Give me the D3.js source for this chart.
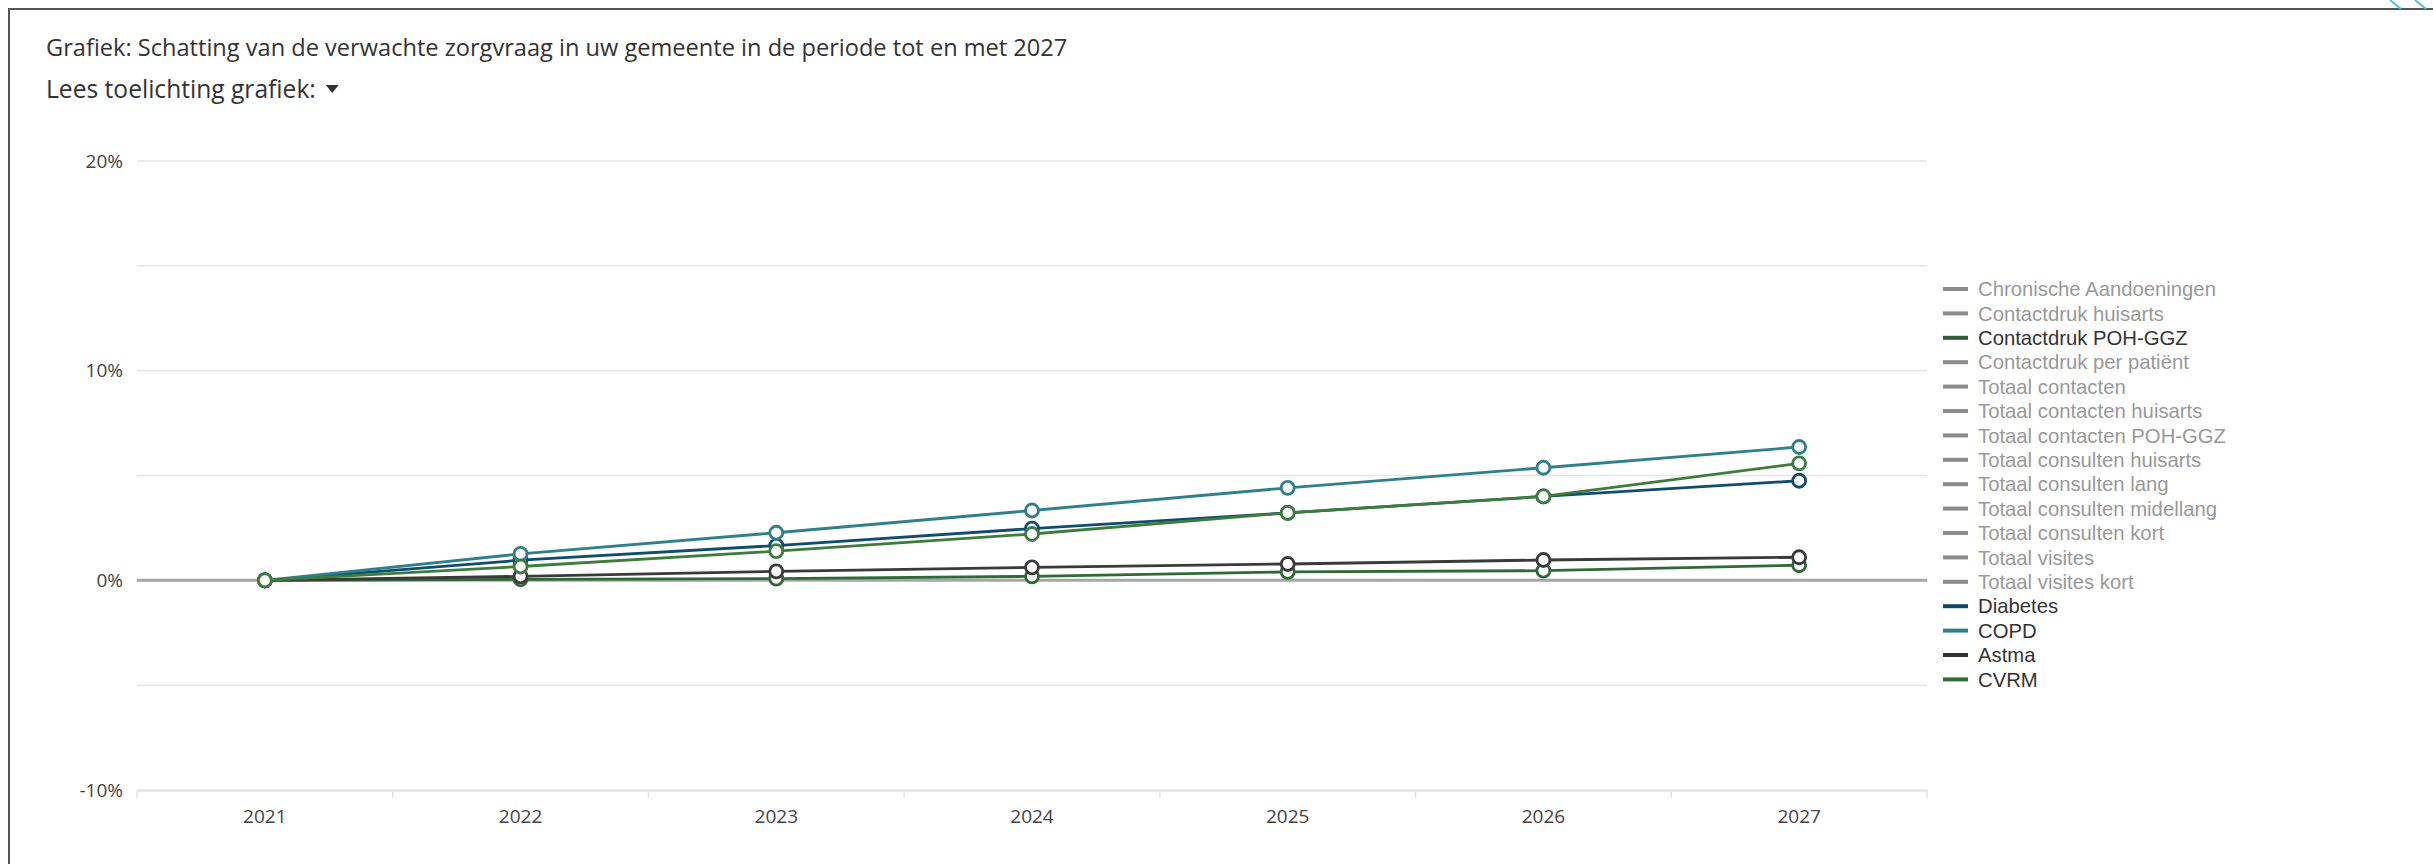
<!DOCTYPE html>
<html>
<head>
<meta charset="utf-8">
<script src="https://cdn.jsdelivr.net/npm/d3@7"></script>
<style>
  html, body { margin: 0; padding: 0; background: #fff; }
  svg { display: block; }
</style>
</head>
<body>
<svg id="chart" width="2433" height="864"></svg>
<script>
// ---- data ----
const years = ["2021", "2022", "2023", "2024", "2025", "2026", "2027"];
const yTickValues = [-10, 0, 10, 20];
const yGridValues = [-10, -5, 0, 5, 10, 15, 20];

const contactdrukPohGgz = [0, 0.05, 0.08, 0.19, 0.40, 0.46, 0.72];
const diabetes          = [0, 0.96, 1.66, 2.47, 3.22, 4.00, 4.75];
const copd              = [0, 1.26, 2.27, 3.33, 4.41, 5.37, 6.36];
const astma             = [0, 0.19, 0.43, 0.62, 0.78, 0.97, 1.10];
const cvrm              = [0, 0.66, 1.39, 2.21, 3.22, 4.00, 5.58];

const legendNames = [
  "Chronische Aandoeningen", "Contactdruk huisarts", "Contactdruk POH-GGZ",
  "Contactdruk per patiënt", "Totaal contacten", "Totaal contacten huisarts",
  "Totaal contacten POH-GGZ", "Totaal consulten huisarts", "Totaal consulten lang",
  "Totaal consulten midellang", "Totaal consulten kort", "Totaal visites",
  "Totaal visites kort", "Diabetes", "COPD", "Astma", "CVRM"
];
const legendVisible = [false, false, true, false, false, false, false, false, false,
  false, false, false, false, true, true, true, true];
const legendColors = ["#8c8c8c", "#8c8c8c", "#2d5e36", "#8c8c8c", "#8c8c8c", "#8c8c8c",
  "#8c8c8c", "#8c8c8c", "#8c8c8c", "#8c8c8c", "#8c8c8c", "#8c8c8c", "#8c8c8c",
  "#0c4a68", "#2e8088", "#333333", "#2f6f35"];

// drawn series (drawing order = legend order)
const seriesNames  = ["Contactdruk POH-GGZ", "Diabetes", "COPD", "Astma", "CVRM"];
const seriesValues = [contactdrukPohGgz, diabetes, copd, astma, cvrm];
const seriesColors = ["#2d6a36", "#0d4d6e", "#2e8189", "#3a3a3a", "#3d7d3c"];

const titleText = "Grafiek: Schatting van de verwachte zorgvraag in uw gemeente in de periode tot en met 2027";
const subText = "Lees toelichting grafiek:";

// ---- layout ----
const svg = d3.select("#chart");
const plot = { left: 137, right: 1927, top: 161, bottom: 790 };

// page frame
svg.append("path")
  .attr("d", "M9,864 V9 H2433")
  .attr("fill", "none").attr("stroke", "#555").attr("stroke-width", 2);
svg.append("line").attr("x1", 2390).attr("y1", 0).attr("x2", 2401).attr("y2", 9)
  .attr("stroke", "#4ec3d6").attr("stroke-width", 2);
svg.append("line").attr("x1", 2415).attr("y1", 0).attr("x2", 2426).attr("y2", 9)
  .attr("stroke", "#4ec3d6").attr("stroke-width", 2);

// titles
svg.append("text").attr("x", 46).attr("y", 56)
  .attr("font-family", "'Open Sans', sans-serif").attr("font-size", 23.6)
  .attr("fill", "#333").text(titleText);
const sub = svg.append("text").attr("x", 46).attr("y", 98)
  .attr("font-family", "'Open Sans', sans-serif").attr("font-size", 24.6)
  .attr("fill", "#333").text(subText);
const subW = sub.node().getComputedTextLength();
svg.append("path")
  .attr("d", `M${46 + subW + 10},85 h13 l-6.5,8 z`)
  .attr("fill", "#333");

// scales
const x = d3.scaleBand().domain(years).range([plot.left, plot.right]).padding(0);
const y = d3.scaleLinear().domain([-10, 20]).range([plot.bottom, plot.top]);
const cx = d => x(d) + x.bandwidth() / 2;

// gridlines
svg.append("g").selectAll("line").data(yGridValues.filter(v => v !== -10 && v !== 0)).join("line")
  .attr("x1", plot.left).attr("x2", plot.right)
  .attr("y1", d => y(d)).attr("y2", d => y(d))
  .attr("stroke", "#e6e6e6").attr("stroke-width", 1.5);

// y axis labels
const yAxis = d3.axisLeft(y).tickValues(yTickValues).tickSize(0).tickPadding(0)
  .tickFormat(d => d + "%");
const yg = svg.append("g").attr("transform", `translate(${plot.left - 14},0)`).call(yAxis);
yg.select(".domain").remove();
yg.selectAll("text")
  .attr("font-family", "'Open Sans', sans-serif").attr("font-size", 19)
  .attr("fill", "#444");

// x axis
const xAxis = d3.axisBottom(x).tickSize(0).tickPadding(20);
const xg = svg.append("g").attr("transform", `translate(0,${plot.bottom})`).call(xAxis);
xg.select(".domain").attr("stroke", "#e3e3e3").attr("stroke-width", 2.5);
xg.selectAll("text")
  .attr("font-family", "'Open Sans', sans-serif").attr("font-size", 19)
  .attr("fill", "#444");
// band-edge tick marks
const edges = years.map(d => x(d)).concat([x(years[years.length - 1]) + x.bandwidth()]);
svg.append("g").selectAll("line").data(edges).join("line")
  .attr("x1", d => d).attr("x2", d => d)
  .attr("y1", plot.bottom).attr("y2", plot.bottom + 8)
  .attr("stroke", "#e3e3e3").attr("stroke-width", 1.5);

// zero line
svg.append("line")
  .attr("x1", plot.left).attr("x2", plot.right)
  .attr("y1", y(0)).attr("y2", y(0))
  .attr("stroke", "#a6a6a6").attr("stroke-width", 3);

// series
const line = d3.line().x((d, i) => cx(years[i])).y(d => y(d));
seriesValues.forEach((vals, si) => {
  const g = svg.append("g").attr("class", "series");
  g.append("path").datum(vals)
    .attr("d", line)
    .attr("fill", "none")
    .attr("stroke", seriesColors[si])
    .attr("stroke-width", 2.8);
  g.selectAll("circle").data(vals).join("circle")
    .attr("cx", (d, i) => cx(years[i]))
    .attr("cy", d => y(d))
    .attr("r", 6.5)
    .attr("fill", "#fff")
    .attr("stroke", seriesColors[si])
    .attr("stroke-width", 2.8);
});

// legend
const legY0 = 289, legStep = 24.4;
const leg = svg.append("g");
legendNames.forEach((name, i) => {
  const yy = legY0 + i * legStep;
  leg.append("line")
    .attr("x1", 1943).attr("x2", 1968).attr("y1", yy).attr("y2", yy)
    .attr("stroke", legendColors[i]).attr("stroke-width", 4);
  leg.append("text")
    .attr("x", 1978).attr("y", yy)
    .attr("dy", "0.35em")
    .attr("font-family", "'Liberation Sans', Arial, sans-serif")
    .attr("font-size", 20.3)
    .attr("fill", legendVisible[i] ? "#333" : "#999")
    .text(name);
});
</script>
</body>
</html>
